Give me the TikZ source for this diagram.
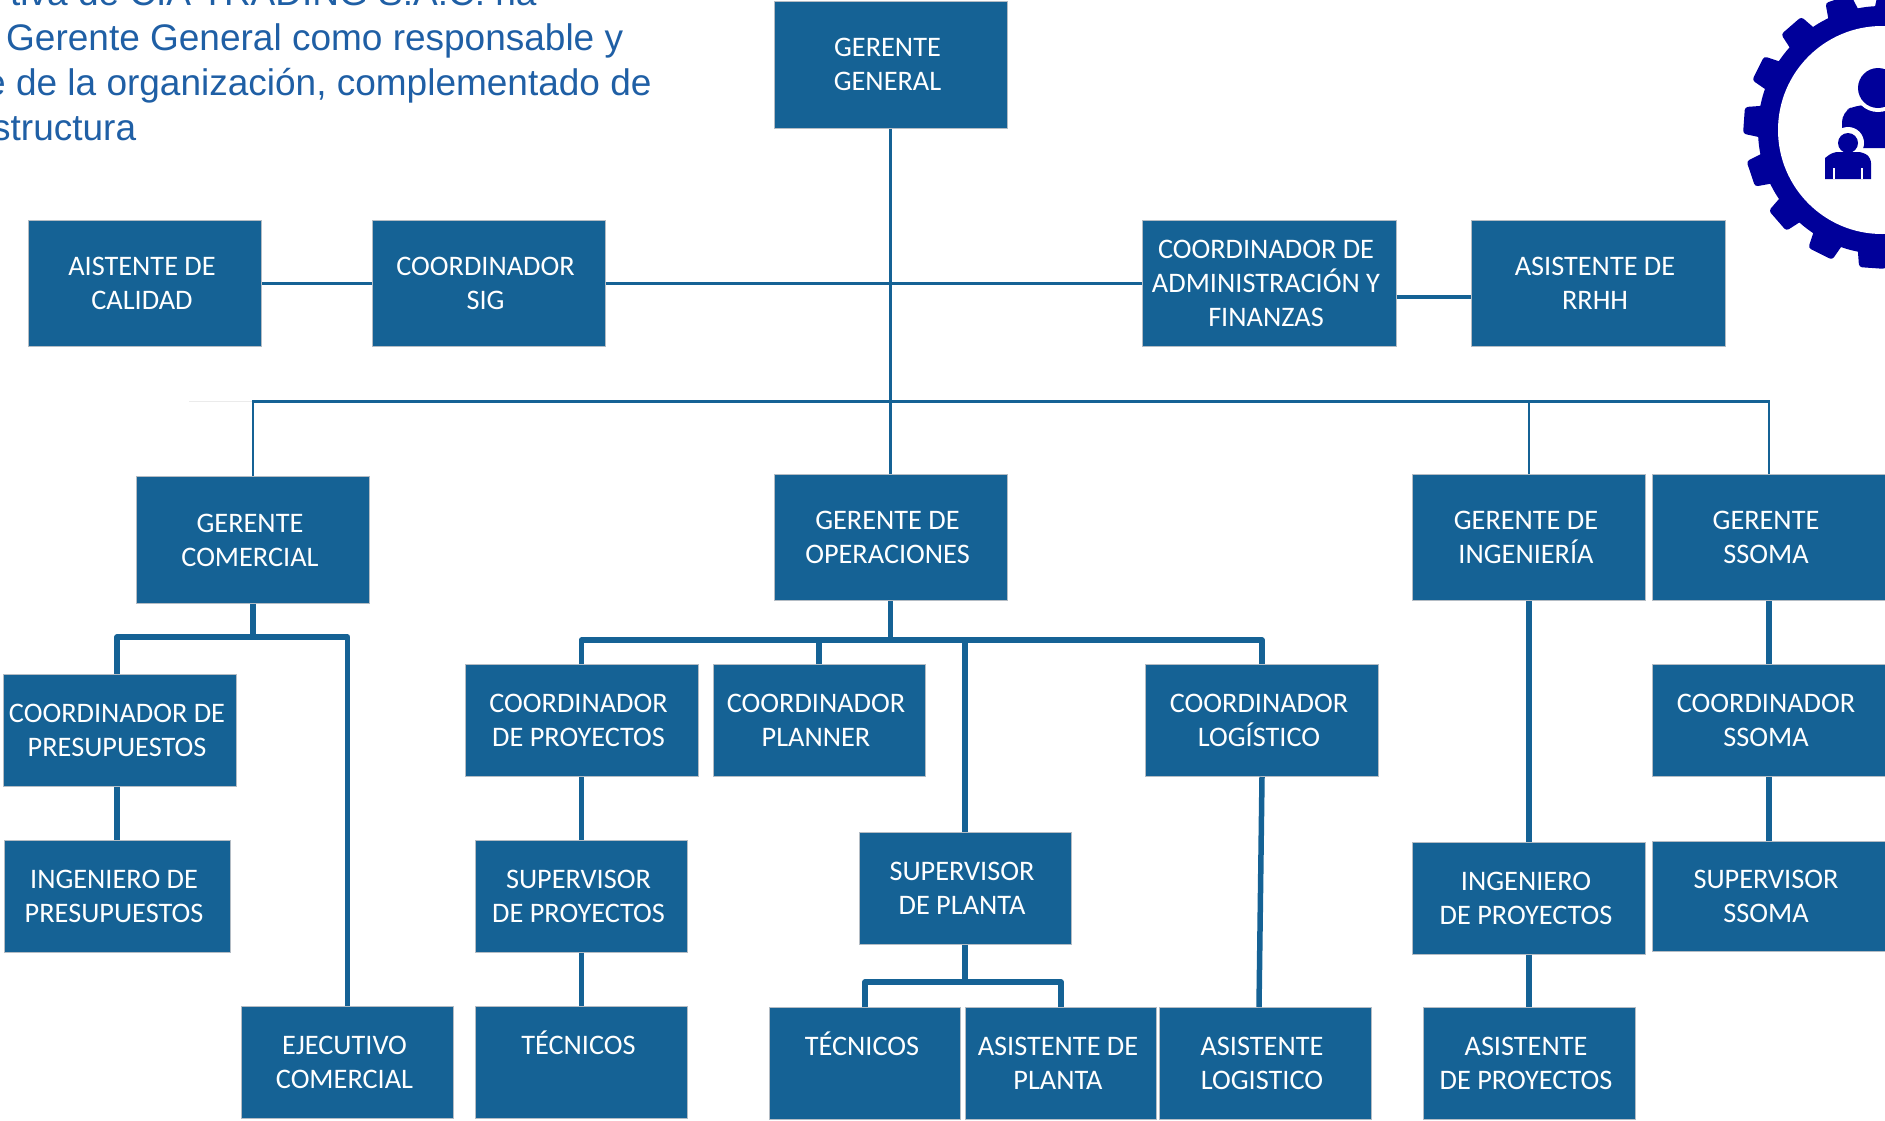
\documentclass[tikz,border=0pt]{standalone}
\usepackage{fontspec}
\setmainfont{Carlito}
\newfontfamily\introfont{Liberation Sans}
\definecolor{boxblue}{HTML}{156295}
\definecolor{boxedge}{HTML}{B4BCC4}
\definecolor{introblue}{HTML}{1F5FA5}
\definecolor{gearblue}{HTML}{00009A}
% box text sits a little left of and below the box centre
\newcommand{\boxtext}[1]{\raisebox{0pt}[\dimexpr\height+5pt][\depth]{\begin{tabular}{@{}c@{}}#1\end{tabular}}\kern6pt}
\tikzset{
  orgbox/.style={draw=boxedge, line width=1pt, fill=boxblue, text=white,
    inner sep=0pt, font=\fontsize{28.3}{34}\selectfont},
  tallbox/.style={orgbox, minimum width=233, minimum height=126.5},
  flatbox/.style={orgbox, minimum width=233, minimum height=112},
  narrowbox/.style={orgbox, minimum width=212, minimum height=112},
  thinline/.style={draw=boxblue, line width=2.4pt},
  thickline/.style={draw=boxblue, line width=5.5pt, line join=round},
  intro/.style={anchor=base west, inner sep=0pt, text=introblue, font=\introfont\fontsize{37}{44}\selectfont}
}

\begin{document}
\begin{tikzpicture}[x=1pt, y=-1pt]
  \useasboundingbox (0,0) rectangle (1885,1120);

  \node[intro] (introa) at (10,5) {tiva de CIA TRADING S.A.C. ha};
  \node[intro] (introb) at (6,50) {Gerente General como responsable y};
  \node[intro] (introc) at (-15,95) {e de la organización, complementado de};
  \node[intro] (introd) at (-8,140) {structura};

  % gear
  \foreach \k in {0,...,15} {
    \pgfmathsetmacro{\t}{4+22.5*\k}
    \fill[gearblue, rounded corners=3pt, shift={(1882,130)}]
      (\t-8:118) -- (\t-5.5:139) -- (\t+5.5:139) -- (\t+8:118) -- cycle;
  }
  \fill[gearblue] (1882,130) circle (124);
  \fill[white] (1882,130) circle (104);
  \fill[gearblue, rounded corners=10pt] (1842,148) -- (1842,112) -- (1856,105) -- (1900,105) -- (1900,148) -- cycle;
  \fill[white] (1878,88) circle (24);
  \fill[gearblue] (1878,88) circle (20);
  \fill[white] (1848,143) circle (16);
  \fill[gearblue] (1848,143) circle (10);
  \fill[gearblue, rounded corners=5pt] (1825,179) [sharp corners] -- (1825,158) [rounded corners=5pt] -- (1833,152) -- (1863,152) -- (1871,158) [sharp corners] -- (1871,179) -- cycle;
  \fill[white] (1833,168) rectangle (1835,179);
  \fill[white] (1861,168) rectangle (1863,179);

  \node[tallbox, minimum height=127] (gengeneral) at (890.5,64.5) {\boxtext{GERENTE\\GENERAL}};
  \node[tallbox] (aistecal) at (145,283.5) {\boxtext{AISTENTE DE\\CALIDAD}};
  \node[tallbox] (coordsig) at (488.5,283.5) {\boxtext{COORDINADOR\\SIG}};
  \node[tallbox, minimum width=254] (coordadm) at (1269,283.5) {\boxtext{COORDINADOR DE\\ADMINISTRACIÓN Y\\FINANZAS}};
  \node[tallbox, minimum width=254] (asisrrhh) at (1598,283.5) {\boxtext{ASISTENTE DE\\RRHH}};

  \node[tallbox] (gercom) at (253,540) {\boxtext{GERENTE\\COMERCIAL}};
  \node[tallbox] (gerop) at (890.5,537.5) {\boxtext{GERENTE DE\\OPERACIONES}};
  \node[tallbox] (gering) at (1529,537.5) {\boxtext{GERENTE DE\\INGENIERÍA}};
  \node[tallbox] (gerssoma) at (1769,537.5) {\boxtext{GERENTE\\SSOMA}};

  \node[flatbox] (coordpres) at (120,730) {\boxtext{COORDINADOR DE\\PRESUPUESTOS}};
  \node[flatbox, minimum width=226] (ingpres) at (117,896) {\boxtext{INGENIERO DE\\PRESUPUESTOS}};
  \node[narrowbox] (ejec) at (347.5,1062) {\boxtext{EJECUTIVO\\COMERCIAL}};

  \node[flatbox] (coordproy) at (581.5,720.5) {\boxtext{COORDINADOR\\DE PROYECTOS}};
  \node[narrowbox] (coordplan) at (819,720.5) {\boxtext{COORDINADOR\\PLANNER}};
  \node[flatbox] (coordlog) at (1262,720.5) {\boxtext{COORDINADOR\\LOGÍSTICO}};
  \node[narrowbox] (supproy) at (581.5,896) {\boxtext{SUPERVISOR\\DE PROYECTOS}};
  \node[narrowbox] (tecproy) at (581.5,1062) {\boxtext{TÉCNICOS\\~}};
  \node[narrowbox] (supplanta) at (965,888) {\boxtext{SUPERVISOR\\DE PLANTA}};
  \node[narrowbox, minimum width=191] (tecplanta) at (865,1063.5) {\boxtext{TÉCNICOS\\~}};
  \node[narrowbox, minimum width=191] (asisplanta) at (1061,1063.5) {\boxtext{ASISTENTE DE\\PLANTA}};
  \node[narrowbox] (asislog) at (1265,1063.5) {\boxtext{ASISTENTE\\LOGISTICO}};

  \node[flatbox] (ingproy) at (1529,898) {\boxtext{INGENIERO\\DE PROYECTOS}};
  \node[narrowbox] (asisproy) at (1529,1063.5) {\boxtext{ASISTENTE\\DE PROYECTOS}};
  \node[flatbox] (coordssoma) at (1769,720.5) {\boxtext{COORDINADOR\\SSOMA}};
  \node[flatbox, minimum height=110] (supssoma) at (1769,896.5) {\boxtext{SUPERVISOR\\SSOMA}};

  % buses
  \coordinate (bustop) at (891,401.5);
  \coordinate (busfaint) at (189,401.5);
  \coordinate (buscom) at (253,637);
  \coordinate (busop) at (890.5,640);
  \coordinate (busplanta) at (965,982);
  \coordinate (logend) at (1259,1007);

  \draw[thinline] (gengeneral.south) -- (gerop.north);
  \draw[thinline] (aistecal.east) -- (coordsig.west);
  \draw[thinline] (coordsig.east) -- (coordadm.west);
  \draw[thickline, line width=4pt] ([yshift=-13.5]coordadm.east) -- ([yshift=-13.5]asisrrhh.west);
  \draw[draw=black!8, line width=1.5pt] (busfaint) -- (gercom.north |- busfaint);
  \draw[thinline] (gercom.north) -- (gercom.north |- bustop) -- (gerssoma.north |- bustop) -- (gerssoma.north);
  \draw[thinline] (gering.north |- bustop) -- (gering.north);

  \draw[thickline] (gercom.south) -- (buscom);
  \draw[thickline] (buscom) -| (ingpres.north |- coordpres.north);
  \draw[thickline] (buscom) -| (ejec.north);
  \draw[thickline] (ingpres.north |- coordpres.south) -- (ingpres.north);

  \draw[thickline] (gerop.south) -- (busop);
  \draw[thickline] (coordproy.north) |- (busop) -| (coordlog.north);
  \draw[thickline] (coordplan.north) -- (coordplan.north |- busop);
  \draw[thickline] (supplanta.north) -- (supplanta.north |- busop);
  \draw[thickline] (coordproy.south) -- (coordproy.south -| supproy.north) -- (supproy.north);
  \draw[thickline] (supproy.south) -- (tecproy.north);
  \draw[thickline] (supplanta.south) -- (busplanta);
  \draw[thickline] (tecplanta.north) |- (busplanta) -| (asisplanta.north);
  \draw[thickline] (coordlog.south) -- (logend);

  \draw[thickline] (gering.south) -- (ingproy.north);
  \draw[thickline] (ingproy.south) -- (asisproy.north);
  \draw[thickline] (gerssoma.south) -- (coordssoma.north);
  \draw[thickline] (coordssoma.south) -- (supssoma.north);
\end{tikzpicture}
\end{document}
